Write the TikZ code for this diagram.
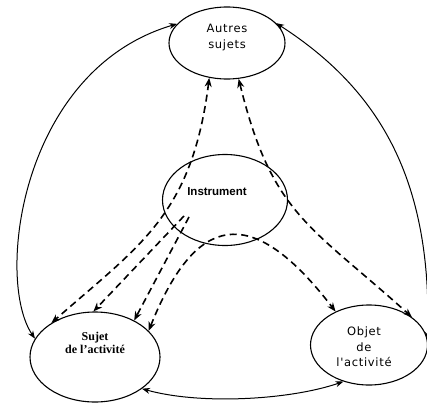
\documentclass[tikz,border=0pt]{standalone}
\usepackage{fontspec}
\setmainfont{Liberation Serif}
\newfontfamily\gothfont[LetterSpace=6]{DejaVu Sans}
\newfontfamily\arialfont{Liberation Sans}
\usetikzlibrary{shapes.geometric, arrows.meta}

\begin{document}
\begin{tikzpicture}[
      x=1pt, y=-1pt,
      pole/.style={ellipse, draw, line width=1.1pt, inner sep=0pt},
      polelabel/.style={align=center, inner sep=0pt},
      link/.style={{Stealth[length=8pt,width=6pt]}-{Stealth[length=8pt,width=6pt]}, line width=1pt},
      mediation/.style={{Stealth[length=9pt,width=7pt]}-{Stealth[length=9pt,width=7pt]}, line width=1.6pt, dash pattern=on 7pt off 4.5pt},
      tomediation/.style={-{Stealth[length=9pt,width=7pt]}, line width=1.6pt, dash pattern=on 7pt off 4.5pt}
    ]
    \useasboundingbox (0,0) rectangle (427,403);

    % the four poles
    \node[pole, minimum width=116pt, minimum height=72pt,
          label={[polelabel, yshift=5pt, font=\gothfont\fontsize{11.5}{16}\selectfont]center:{Autres\\sujets}}] (autres) at (227,43) {};
    \node[pole, minimum width=125pt, minimum height=91pt,
          label={[polelabel, xshift=-8pt, yshift=8pt, font=\arialfont\bfseries\fontsize{11.5}{13}\selectfont]center:{Instrument}}] (instr) at (225,200) {};
    \node[pole, minimum width=130pt, minimum height=90pt,
          label={[polelabel, yshift=14pt, font=\bfseries\fontsize{12}{13}\selectfont]center:{Sujet\\de l'activité}}] (sujet) at (95,357) {};
    \node[pole, minimum width=117pt, minimum height=80pt,
          label={[polelabel, xshift=-5pt, yshift=-2pt, font=\gothfont\fontsize{11.5}{15.5}\selectfont]center:{Objet\\de\\l'activité}}] (objet) at (369,345) {};

    \coordinate (i1) at ([shift={(-41,16)}]instr.center);
    \coordinate (i2) at ([shift={(-36,17)}]instr.center);

    % solid links round the triangle
    \draw[link] (sujet.163) .. controls (-5,280) and (20,70) .. (autres.159);
    \draw[link] (autres.22) .. controls (380,90) and (432,180) .. (objet.5);
    \draw[link] (sujet.-34) .. controls (200,405) and (290,400) .. (objet.-125);

    % mediated links
    \draw[mediation] (autres.243) .. controls (192,215) and (140,245) .. (sujet.142);
    \draw[mediation] (autres.288) .. controls (272,215) and (310,225) .. (objet.33);
    \draw[mediation] (sujet.26) .. controls (195,215) and (250,200) .. (objet.135);
    \draw[tomediation] (i1) -- (sujet.92);
    \draw[tomediation] (i2) -- (sujet.43);
  \end{tikzpicture}
\end{document}
